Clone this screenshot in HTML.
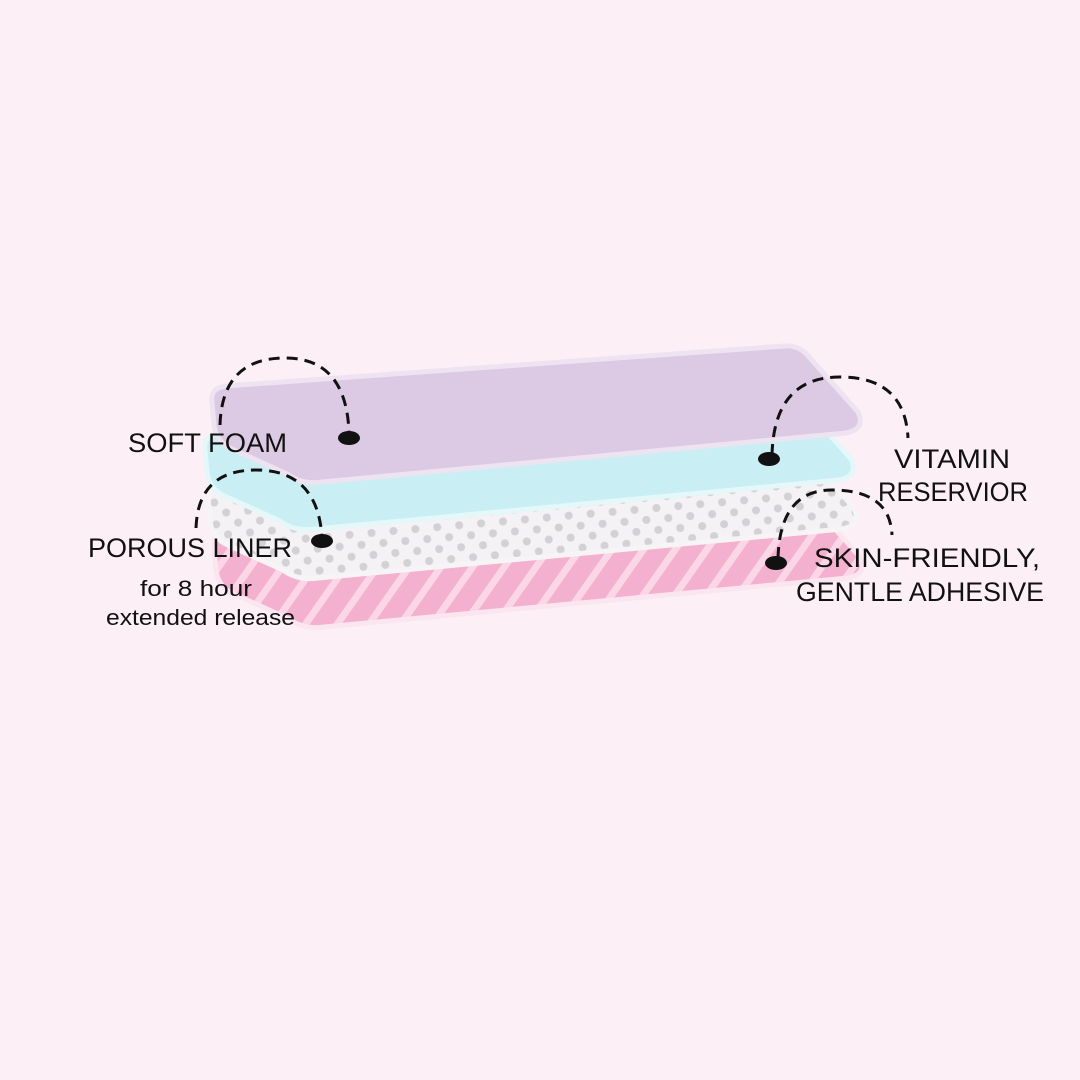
<!DOCTYPE html>
<html><head><style>
body{margin:0;width:1080px;height:1080px;background:#fcf0f6;overflow:hidden}
svg{position:absolute;left:0;top:0}
.t{font-family:"Liberation Sans",sans-serif;fill:#111;font-size:27px}
.s{font-family:"Liberation Sans",sans-serif;fill:#111;font-size:22px}
</style></head><body>
<svg width="1080" height="1080" viewBox="0 0 1080 1080">
<defs>
<pattern id="dots" width="22" height="22" patternUnits="userSpaceOnUse" patternTransform="rotate(-5)">
<rect width="22" height="22" fill="#f4f2f4"/>
<circle cx="6" cy="6" r="4" fill="#d3d1d6"/><circle cx="17" cy="17" r="4" fill="#d3d1d6"/>
</pattern>
<pattern id="stripes" width="26" height="26" patternUnits="userSpaceOnUse" patternTransform="rotate(35)">
<rect width="26" height="26" fill="#f4b0cf"/><rect width="7" height="26" fill="#fbd6e6"/>
</pattern>
<path id="L" d="M212,402 Q210,388 226,386 L785,346 Q800,345 810,358 L858,412 Q866,429 846,433 L322,482 Q302,485 287,474 L234,450 Q216,443 214,425 Z"/>
</defs>
<use href="#L" transform="translate(2,145)" fill="url(#stripes)" stroke="#fbe6ef" stroke-width="5"/>
<use href="#L" transform="translate(-4,96)" fill="url(#dots)" stroke="#f7f4f6" stroke-width="5"/>
<use href="#L" transform="translate(-7,47)" fill="#c9eef3" stroke="#e4f7f9" stroke-width="5"/>
<use href="#L" fill="#dcc9e3" stroke="#eee3f1" stroke-width="5"/>
<g fill="none" stroke="#111" stroke-width="3" stroke-dasharray="11,7">
<path d="M220,425 Q222,358 285,358 Q346,358 349,432"/>
<path d="M196,528 Q198,470 256,470 Q318,470 322,538"/>
<path d="M772,455 Q774,377 840,377 Q905,377 908,438"/>
<path d="M778,558 Q780,490 832,490 Q890,490 892,535"/>
</g>
<g fill="#111">
<ellipse cx="349" cy="438" rx="11" ry="7"/>
<ellipse cx="322" cy="541" rx="11" ry="7"/>
<ellipse cx="769" cy="459" rx="11" ry="7"/>
<ellipse cx="776" cy="563" rx="11" ry="7"/>
</g>
<text class="t" x="128" y="452" textLength="159" lengthAdjust="spacingAndGlyphs">SOFT FOAM</text>
<text class="t" x="88" y="557" textLength="204" lengthAdjust="spacingAndGlyphs">POROUS LINER</text>
<text class="s" x="140" y="596" textLength="112" lengthAdjust="spacingAndGlyphs">for 8 hour</text>
<text class="s" x="106" y="625" textLength="189" lengthAdjust="spacingAndGlyphs">extended release</text>
<text class="t" x="894" y="468" textLength="116" lengthAdjust="spacingAndGlyphs">VITAMIN</text>
<text class="t" x="878" y="501" textLength="150" lengthAdjust="spacingAndGlyphs">RESERVIOR</text>
<text class="t" x="814" y="567" textLength="226" lengthAdjust="spacingAndGlyphs">SKIN-FRIENDLY,</text>
<text class="t" x="796" y="601" textLength="248" lengthAdjust="spacingAndGlyphs">GENTLE ADHESIVE</text>
</svg>
</body></html>
